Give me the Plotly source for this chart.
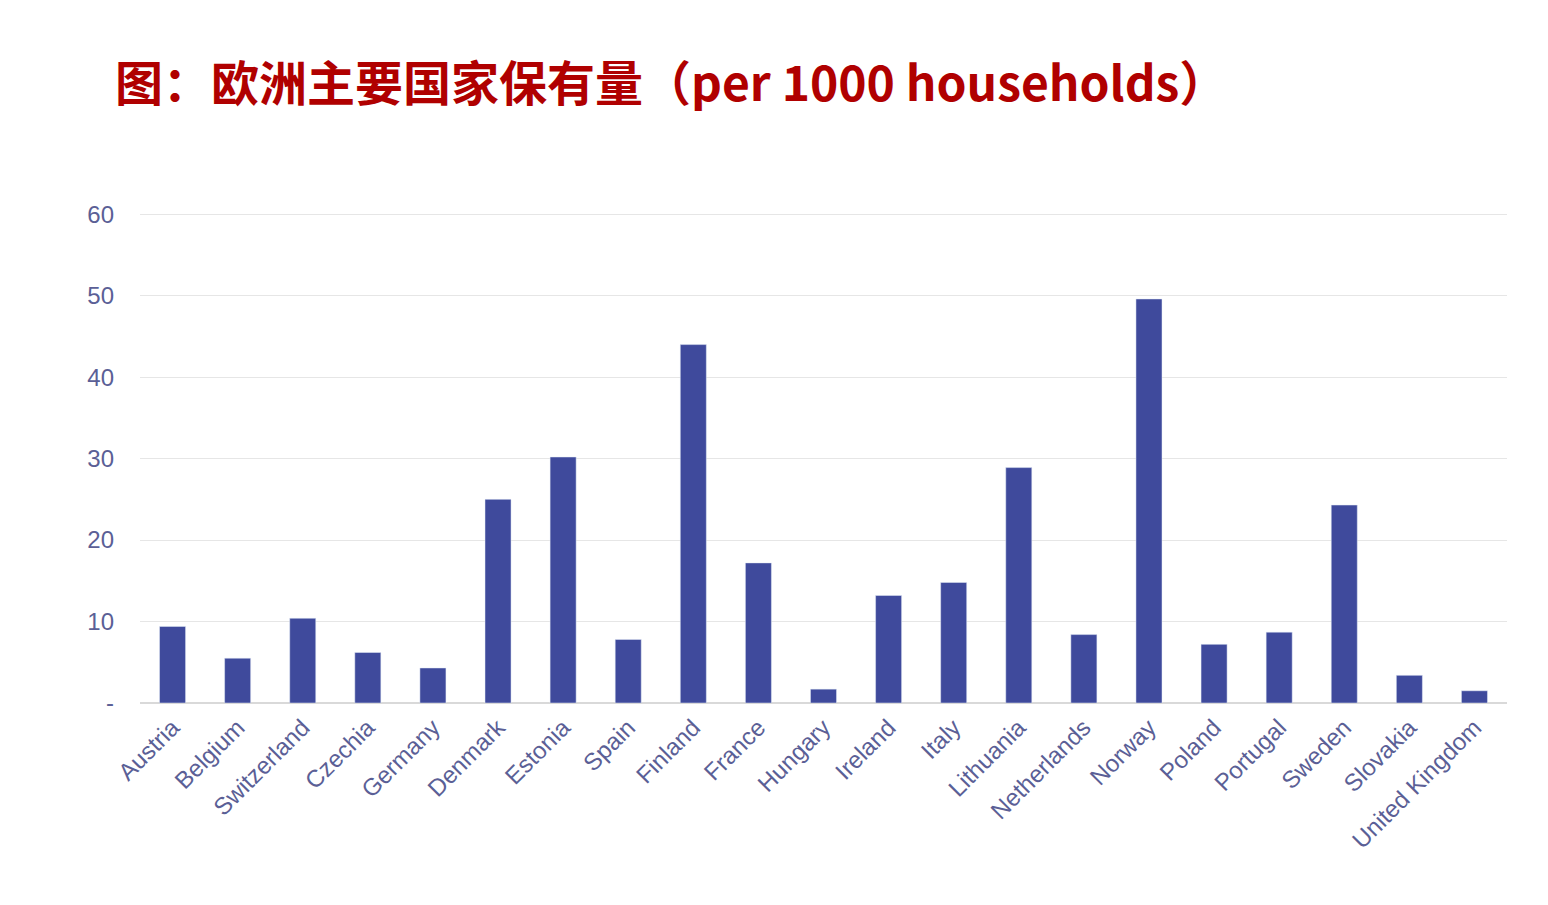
import plotly.graph_objects as go

countries = ["Austria","Belgium","Switzerland","Czechia","Germany","Denmark","Estonia","Spain","Finland","France","Hungary","Ireland","Italy","Lithuania","Netherlands","Norway","Poland","Portugal","Sweden","Slovakia","United Kingdom"]
values = [9.4,5.5,10.4,6.2,4.3,25.0,30.2,7.8,44.0,17.2,1.7,13.2,14.8,28.9,8.4,49.6,7.2,8.7,24.3,3.4,1.5]
ytick_vals = [0,10,20,30,40,50,60]
ytick_text = ["-","10","20","30","40","50","60"]

fig = go.Figure(go.Bar(x=countries, y=values, marker_color="#3f4a9c"))
fig.update_layout(
    width=1548, height=905, plot_bgcolor="white", paper_bgcolor="white",
    margin=dict(l=132, r=49, t=203, b=210), bargap=0.6, showlegend=False,
    font=dict(family="Liberation Sans, Arial", color="#5b5f96"),
)
fig.add_annotation(text="<b>图：欧洲主要国家保有量（per 1000 households）</b>", xref="paper", yref="paper",
                   x=-0.02, y=1.0, yshift=131, xanchor="left", yanchor="middle", showarrow=False,
                   font=dict(size=48, color="#b00000", family="Noto Sans CJK SC"))
fig.update_yaxes(range=[0,60.4], tickvals=ytick_vals, ticktext=ytick_text, gridcolor="#e6e6e6",
                 tickfont=dict(size=24), ticks="", zeroline=True, zerolinecolor="#d9d9d9", ticklabelstandoff=25)
fig.update_xaxes(tickangle=-45, tickfont=dict(size=24), showline=True, linecolor="#d9d9d9")
fig.write_html("out.html")
